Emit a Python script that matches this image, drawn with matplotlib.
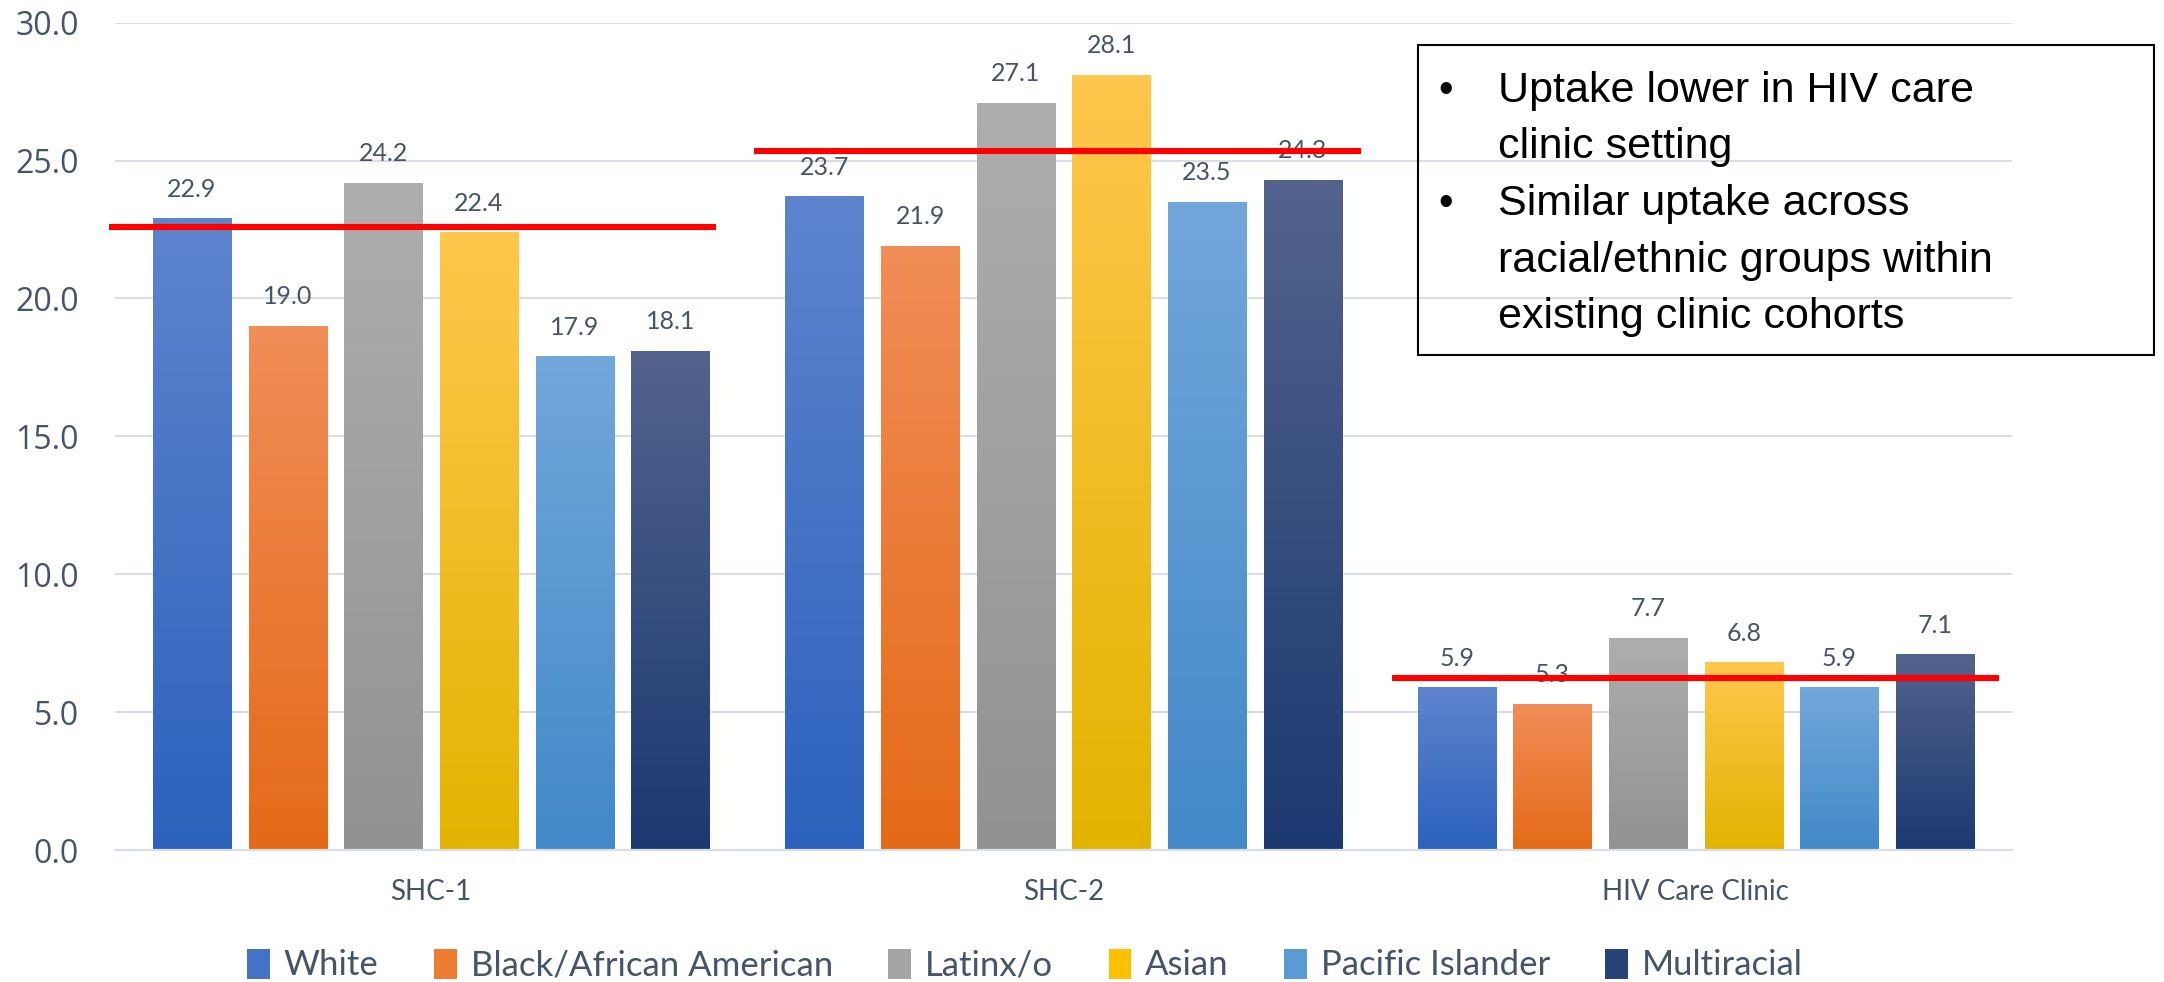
import numpy as np
import matplotlib
matplotlib.use("Agg")
import matplotlib.pyplot as plt
from matplotlib.colors import LinearSegmentedColormap
from matplotlib.patches import Rectangle, Patch

# data
clinics = ["SHC-1", "SHC-2", "HIV Care Clinic"]
groups = ["White", "Black/African American", "Latinx/o", "Asian",
          "Pacific Islander", "Multiracial"]
white = [22.9, 23.7, 5.9]
black = [19.0, 21.9, 5.3]
latinx = [24.2, 27.1, 7.7]
asian = [22.4, 28.1, 6.8]
pacific = [17.9, 23.5, 5.9]
multi = [18.1, 24.3, 7.1]
series = [white, black, latinx, asian, pacific, multi]

# red reference lines drawn over each clinic
ref_vals = [22.6, 25.35, 6.24]
ref_shift = [-0.51, -0.49, -0.48]   # start, relative to clinic centre
ref_len = 0.96

notes = ["Uptake lower in HIV care", "clinic setting",
         "Similar uptake across", "racial/ethnic groups within",
         "existing clinic cohorts"]
bullet_lines = [0, 2]

# gradient colours (top, bottom)
grads = [("#5E84CE", "#2C62BC"),
         ("#F18D57", "#E46A18"),
         ("#AEAEAE", "#929292"),
         ("#FFC74D", "#E2B400"),
         ("#72A7DB", "#4189C8"),
         ("#53638D", "#1B3971")]
solid = ["#4472C4", "#ED7D31", "#A5A5A5", "#FFC000", "#5B9BD5", "#264478"]

txt_col = "#44546A"
grid_col = "#D9DEE5"

fig = plt.figure(figsize=(21.64, 9.82), dpi=100)
ax = fig.add_axes([0.0531, 0.1344, 0.8767, 0.8425])

x = np.arange(len(clinics))
pitch = 0.1512
width = 0.1234

for i, vals in enumerate(series):
    pos = x + (i - 2.5) * pitch
    bars = ax.bar(pos, vals, width, color="none", edgecolor="none", zorder=2)
    cmap = LinearSegmentedColormap.from_list(f"g{i}", [grads[i][1], grads[i][0]])
    g = np.linspace(0, 1, 256).reshape(-1, 1)
    for b, v in zip(bars, vals):
        x0, y0 = b.get_xy()
        im = ax.imshow(g, cmap=cmap, origin="lower", aspect="auto",
                       extent=[x0, x0 + b.get_width(), y0, y0 + b.get_height()],
                       zorder=2, interpolation="bilinear")
        im.set_clip_path(b)
        ax.annotate(f"{v:.1f}", (b.get_x() + b.get_width() / 2, v),
                    xytext=(0, 21), textcoords="offset points",
                    ha="center", va="center", fontsize=18, color=txt_col,
                    family="Lato", zorder=3, annotation_clip=False)

for i, v in enumerate(ref_vals):
    s = x[i] + ref_shift[i]
    ax.plot([s, s + ref_len], [v, v], color="#FF0000", lw=4.4,
            solid_capstyle="butt", zorder=4, clip_on=False)

ax.set_xlim(-0.5, 2.5)
ax.set_ylim(0, 30)
ax.set_yticks(np.arange(0, 31, 5))
ax.set_yticklabels([f"{t:.1f}" for t in np.arange(0, 31, 5)],
                   fontsize=23, color=txt_col, family="Open Sans")
ax.set_xticks(x)
ax.set_xticklabels(clinics, fontsize=20, color=txt_col, family="Lato")
ax.tick_params(axis="y", length=0, pad=26)
ax.tick_params(axis="x", length=0, pad=21)
ax.yaxis.grid(True, color=grid_col, lw=1.5, zorder=0)
ax.set_axisbelow(True)
for s in ["top", "right", "left"]:
    ax.spines[s].set_visible(False)
ax.spines["bottom"].set_color(grid_col)
ax.spines["bottom"].set_linewidth(1.6)

handles = [Patch(facecolor=c, edgecolor="none") for c in solid]
leg = fig.legend(handles, groups, loc="center", bbox_to_anchor=(0.4737, 0.0173),
                 ncol=6, frameon=False, handlelength=0.65, handleheight=0.95,
                 handletextpad=0.4, columnspacing=1.6,
                 prop={"family": "Lato", "size": 25})
for t in leg.get_texts():
    t.set_color(txt_col)

# annotation box
fig.patches.append(Rectangle((0.6553, 0.6385), 0.3401, 0.3157,
                             transform=fig.transFigure, fill=False,
                             edgecolor="black", lw=1.5, zorder=5))
baselines = [102, 158, 215, 272, 328]
for k, (line, b) in enumerate(zip(notes, baselines)):
    yy = 1 - b / 982
    fig.text(0.6922, yy, line, fontsize=31, family="Liberation Sans",
             va="baseline", ha="left", color="black")
    if k in bullet_lines:
        fig.text(0.6682, yy, "\u2022", fontsize=30, family="Liberation Sans",
                 va="baseline", ha="center", color="black")

fig.savefig("out.png", dpi=100)
